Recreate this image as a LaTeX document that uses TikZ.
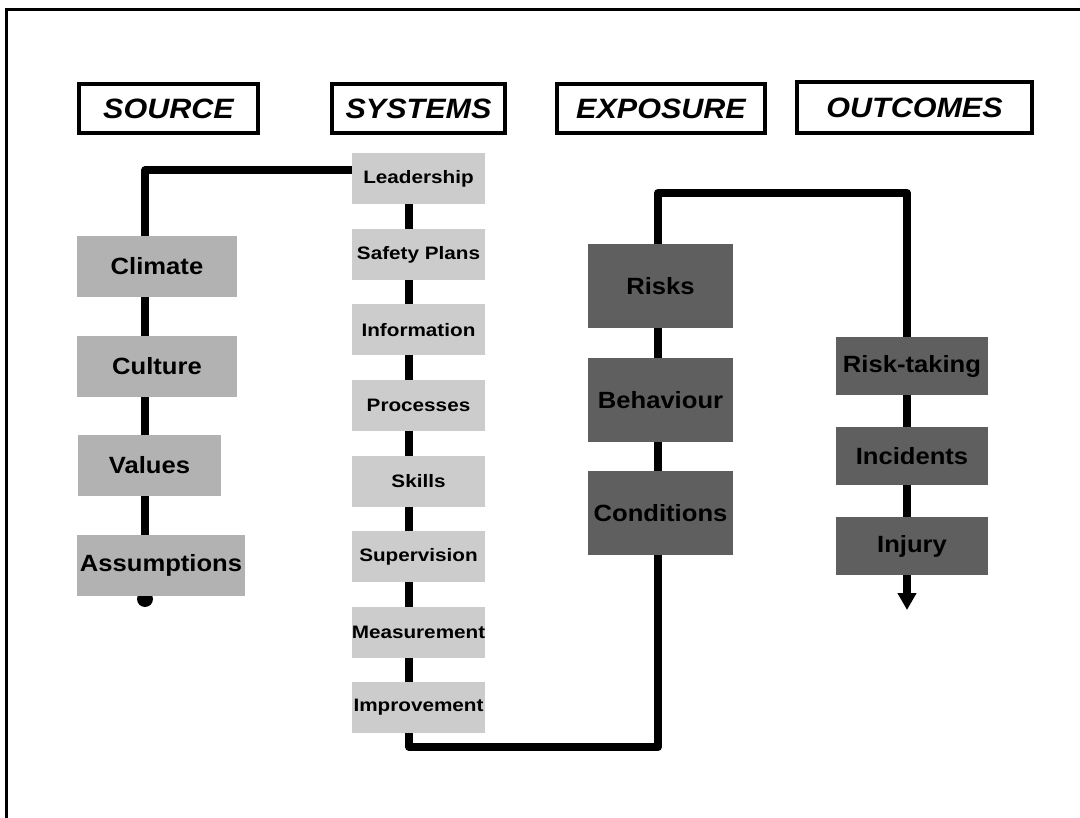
\documentclass[tikz,border=0pt]{standalone}
\usepackage{fontspec}
\setmainfont{Liberation Sans}
\newfontfamily\hdrfont[FakeStretch=1.09]{Liberation Sans}
\newfontfamily\bigfont[FakeStretch=1.09]{Liberation Sans}
\newfontfamily\smallfont[FakeStretch=1.15]{Liberation Sans}
\usetikzlibrary{arrows.meta}
\pgfdeclarelayer{background}
\pgfsetlayers{background,main}
\definecolor{srcgray}{HTML}{B2B2B2}
\definecolor{sysgray}{HTML}{CCCCCC}
\definecolor{darkgray5}{HTML}{5F5F5F}
\begin{document}
\begin{tikzpicture}[x=1pt,y=-1pt,
  hdr/.style={draw=black, line width=4pt, fill=white, minimum height=49pt, inner sep=0pt,
    font=\hdrfont\bfseries\itshape\fontsize{28}{30}\selectfont},
  srcbox/.style={fill=srcgray, minimum height=61pt, inner sep=0pt,
    font=\bigfont\bfseries\fontsize{23.5}{26}\selectfont},
  sysbox/.style={fill=sysgray, minimum width=133pt, minimum height=51pt, inner sep=0pt,
    font=\smallfont\bfseries\fontsize{18}{20}\selectfont},
  expbox/.style={fill=darkgray5, minimum width=145pt, minimum height=84pt, inner sep=0pt,
    font=\bigfont\bfseries\fontsize{23.5}{26}\selectfont},
  outbox/.style={fill=darkgray5, minimum width=152pt, minimum height=58pt, inner sep=0pt,
    font=\bigfont\bfseries\fontsize{23.5}{26}\selectfont},
  conn/.style={line width=8pt, line join=round, draw=black},
  frameline/.style={line width=2.5pt, draw=black}
]
\useasboundingbox (0,0) rectangle (1080,818);
\draw[frameline] (6.5,818) -- (6.5,9.5) -- (1080,9.5);

% headers
\node[hdr, minimum width=179pt] (hsrc) at (168.5,108.5) {SOURCE};
\node[hdr, minimum width=173pt] (hsys) at (418.5,108.5) {SYSTEMS};
\node[hdr, minimum width=208pt] (hexp) at (661,108.5) {EXPOSURE};
\node[hdr, minimum width=235pt, minimum height=51pt] (hout) at (914.5,107.5) {OUTCOMES};

% source
\node[srcbox, minimum width=160pt] (climate) at (157,266.5) {Climate};
\node[srcbox, minimum width=160pt] (culture) at (157,366.5) {Culture};
\node[srcbox, minimum width=143pt] (values) at (149.5,465.5) {Values};
\node[srcbox, minimum width=168pt] (assump) at (161,565.5) {Assumptions};

% systems
\node[sysbox] (lead) at (418.5,179) {Leadership};
\node[sysbox] (safety) at (418.5,254.5) {Safety Plans};
\node[sysbox] (info) at (418.5,330) {Information};
\node[sysbox] (proc) at (418.5,405.5) {Processes};
\node[sysbox] (skills) at (418.5,481.5) {Skills};
\node[sysbox] (superv) at (418.5,556.5) {Supervision};
\node[sysbox] (meas) at (418.5,632.5) {Measurement};
\node[sysbox] (impr) at (418.5,707.5) {Improvement};

% exposure
\node[expbox] (risks) at (660.5,286.5) {Risks};
\node[expbox] (behav) at (660.5,400) {Behaviour};
\node[expbox] (cond) at (660.5,513) {Conditions};

% outcomes
\node[outbox] (risktk) at (912,366) {Risk-taking};
\node[outbox] (incid) at (912,456) {Incidents};
\node[outbox] (injury) at (912,546) {Injury};

% connectors
\coordinate (srcturn) at (145,170.5);
\coordinate (srcend) at (145,599);
\coordinate (b1) at (409,747);
\coordinate (b2) at (658,747);
\coordinate (t1) at (658,193);
\coordinate (t2) at (907,193);
\coordinate (tip) at (907,610);
\begin{pgfonlayer}{background}
\draw[conn] (lead.west |- srcturn) -- (srcturn) -- (srcend);
\fill[black] (srcend) circle (8pt);
\draw[conn, -{Triangle[width=18pt,length=17pt]}] (lead.center -| b1) -- (b1) -- (b2) -- (t1) -- (t2) -- (tip);
\end{pgfonlayer}
\end{tikzpicture}
\end{document}
